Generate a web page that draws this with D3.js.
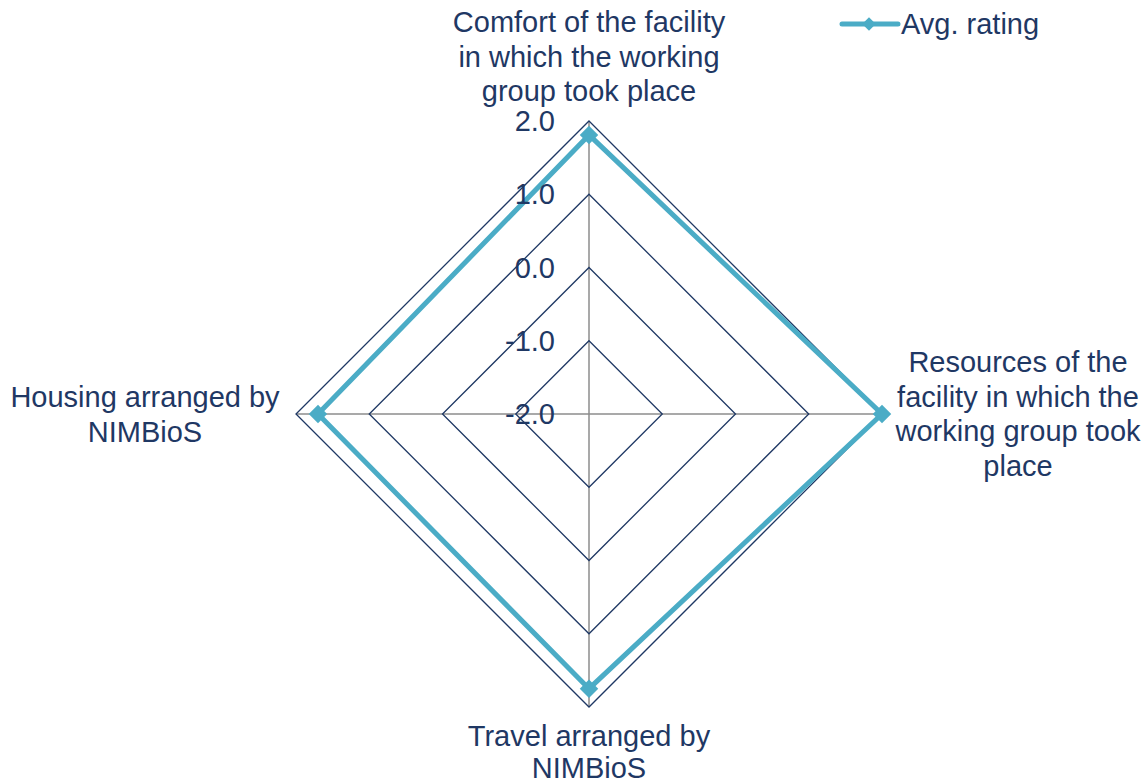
<!DOCTYPE html>
<html>
<head>
<meta charset="utf-8">
<script src="https://cdn.jsdelivr.net/npm/d3@7"></script>
<style>
  body { margin: 0; background: #ffffff; }
  text { font-family: "Liberation Sans", Arial, sans-serif; fill: #1f3864; }
</style>
</head>
<body>
<div id="chart"></div>
<script>
// Data
const categories = [
  ["Comfort of the facility", "in which the working", "group took place"],
  ["Resources of the", "facility in which the", "working group took", "place"],
  ["Travel arranged by", "NIMBioS"],
  ["Housing arranged by", "NIMBioS"]
];
const avgRating = [1.81, 2.0, 1.75, 1.7];
const tickValues = [-2, -1, 0, 1, 2];
const seriesName = "Avg. rating";

// Constants
const width = 1148;
const height = 782;
const cx = 589;
const cy = 414;
const radius = 293;
const fontSize = "29px";
const navy = "#1f3864";
const teal = "#4bacc6";

const svg = d3
  .select("#chart")
  .append("svg")
  .attr("width", width)
  .attr("height", height);

//-----------------------------SCALES-----------------------------//
const rScale = d3.scaleLinear().domain([-2, 2]).range([0, radius]);
const angle = d3
  .scaleLinear()
  .domain([0, categories.length])
  .range([0, 2 * Math.PI]);

const pointAt = function (i, v) {
  const a = angle(i);
  return [cx + rScale(v) * Math.sin(a), cy - rScale(v) * Math.cos(a)];
};

const g = svg.append("g");

//-----------------------------SPOKES-----------------------------//
g.selectAll(".spoke")
  .data(categories)
  .enter()
  .append("line")
  .attr("class", "spoke")
  .attr("x1", cx)
  .attr("y1", cy)
  .attr("x2", (d, i) => pointAt(i, 2)[0])
  .attr("y2", (d, i) => pointAt(i, 2)[1])
  .style("stroke", "#8c8c8c")
  .style("stroke-width", 1.5);

//-----------------------------RINGS------------------------------//
const ringLine = d3.line().curve(d3.curveLinearClosed);

g.selectAll(".ring")
  .data(tickValues.filter((t) => t > -2))
  .enter()
  .append("path")
  .attr("class", "ring")
  .attr("d", (t) => ringLine(categories.map((c, i) => pointAt(i, t))))
  .style("fill", "none")
  .style("stroke", navy)
  .style("stroke-width", 1.3);

//----------------------------SERIES------------------------------//
g.append("path")
  .attr("d", ringLine(avgRating.map((v, i) => pointAt(i, v))))
  .style("fill", "none")
  .style("stroke", teal)
  .style("stroke-width", 5)
  .style("stroke-linejoin", "miter");

const marker = d3.symbol().type(d3.symbolSquare).size(170);

g.selectAll(".point")
  .data(avgRating)
  .enter()
  .append("path")
  .attr("class", "point")
  .attr("d", marker)
  .attr("transform", (v, i) => {
    const p = pointAt(i, v);
    return `translate(${p[0]},${p[1]}) rotate(45)`;
  })
  .style("fill", teal);

//--------------------------TICK LABELS---------------------------//
const fmt = d3.formatLocale({ decimal: ".", thousands: ",", grouping: [3], currency: ["", ""], minus: "-" }).format(".1f");

g.selectAll(".tick-label")
  .data(tickValues)
  .enter()
  .append("text")
  .attr("class", "tick-label")
  .attr("x", cx - 34)
  .attr("y", (t) => cy - rScale(t))
  .attr("dy", "0.35em")
  .attr("text-anchor", "end")
  .style("font-size", fontSize)
  .text((t) => fmt(t));

//------------------------CATEGORY LABELS-------------------------//
const lineH = 34.5;
const labelPos = [
  { x: cx, y: 22 },
  { x: 1018, y: 362 },
  { x: cx, y: 736 },
  { x: 145, y: 397 }
];

categories.forEach(function (lines, i) {
  const t = g
    .append("text")
    .attr("text-anchor", "middle")
    .style("font-size", fontSize);
  lines.forEach(function (l, j) {
    t.append("tspan")
      .attr("x", labelPos[i].x)
      .attr("y", labelPos[i].y + j * (i === 2 ? 32 : lineH))
      .attr("dy", "0.35em")
      .text(l);
  });
});

//-----------------------------LEGEND-----------------------------//
const legend = svg.append("g").attr("transform", "translate(842, 24)");
legend
  .append("line")
  .attr("x1", 0)
  .attr("x2", 56)
  .style("stroke", teal)
  .style("stroke-width", 5)
  .style("stroke-linecap", "round");
legend
  .append("path")
  .attr("d", d3.symbol().type(d3.symbolSquare).size(90))
  .attr("transform", "translate(27,0) rotate(45)")
  .style("fill", teal);
legend
  .append("text")
  .attr("x", 59)
  .attr("dy", "0.35em")
  .style("font-size", fontSize)
  .text(seriesName);
</script>
</body>
</html>
